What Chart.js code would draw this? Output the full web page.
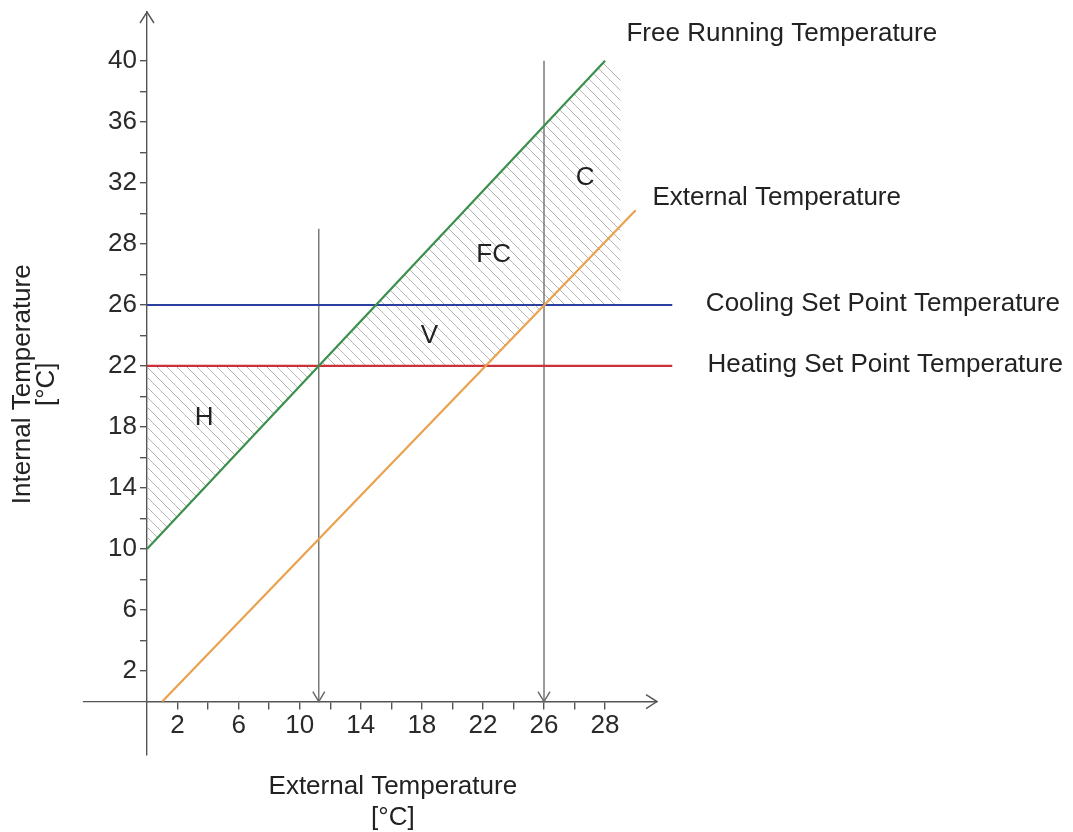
<!DOCTYPE html>
<html>
<head>
<meta charset="utf-8">
<script src="https://cdn.jsdelivr.net/npm/chart.js@4.4.0/dist/chart.umd.min.js"></script>
<style>
  html, body { margin: 0; padding: 0; background: #fff; }
  #wrap { width: 1073px; height: 832px; }
</style>
</head>
<body>
<div id="wrap"><canvas id="chart"></canvas></div>
<script>
// lines (external temperature -> internal temperature)
const freeRunningX = [0, 30];
const freeRunningY = [10, 42];
const externalX = [1, 32];
const externalY = [0, 32.2];
const heatingSetPoint = 22;
const coolingSetPoint = 26;
const setPointSpanX = [0, 34.4];

// vertical arrows down to the x axis
const arrowX = [11.25, 26];
const arrowTopY = [31, 42];

// hatched zones
const zoneHX = [0, 11.25, 0];
const zoneHY = [22, 22, 10];
const zoneVX = [11.25, 30, 31, 31, 26, 22.3];
const zoneVY = [22, 42, 41.1, 26, 26, 22];

// ticks and their labels
const xTickValues = [2, 4, 6, 8, 10, 12, 14, 16, 18, 20, 22, 24, 26, 28, 30];
const xLabelValues = [2, 6, 10, 14, 18, 22, 26, 30];
const xLabelTexts = ['2', '6', '10', '14', '18', '22', '26', '28'];
const yTickValues = [2, 4, 6, 8, 10, 12, 14, 16, 18, 20, 22, 24, 26, 28, 30, 32, 34, 36, 38, 40, 42];
const yLabelValues = [2, 6, 10, 14, 18, 22, 26, 30, 34, 38, 42];
const yLabelTexts = ['2', '6', '10', '14', '18', '22', '26', '28', '32', '36', '40'];

// text placed in the plot
const plotLabels = [
  { text: 'Free Running Temperature', x: 31.4, y: 43.8, align: 'left' },
  { text: 'External Temperature', x: 33.1, y: 33.0, align: 'left' },
  { text: 'Cooling Set Point Temperature', x: 36.6, y: 26.1, align: 'left' },
  { text: 'Heating Set Point Temperature', x: 36.7, y: 22.1, align: 'left' },
  { text: 'H', x: 3.75, y: 18.6, align: 'center' },
  { text: 'V', x: 18.5, y: 24.0, align: 'center' },
  { text: 'FC', x: 22.7, y: 29.3, align: 'center' },
  { text: 'C', x: 28.7, y: 34.3, align: 'center' }
];

const FONT = '"Liberation Sans", Arial, Helvetica, sans-serif';
const AXIS = '#555';

function pts(xs, ys) {
  return xs.map((x, i) => ({ x: x, y: ys[i] }));
}

function hatch() {
  const s = 10;
  const c = document.createElement('canvas');
  c.width = s; c.height = s;
  const g = c.getContext('2d');
  g.strokeStyle = '#b6b6b6';
  g.lineWidth = 1;
  g.beginPath();
  g.moveTo(0, 0); g.lineTo(s, s);
  g.moveTo(-2, s - 2); g.lineTo(2, s + 2);
  g.moveTo(s - 2, -2); g.lineTo(s + 2, 2);
  g.stroke();
  return g.createPattern(c, 'repeat');
}

function lineSet(data, color, width) {
  return {
    data: data, showLine: true, fill: false, borderColor: color, borderWidth: width,
    pointRadius: 0, pointHoverRadius: 0, clip: false, order: 1
  };
}

function zoneSet(data, pattern) {
  return {
    data: data, showLine: true, fill: 'shape', backgroundColor: pattern,
    borderWidth: 0, borderColor: 'rgba(0,0,0,0)', pointRadius: 0, clip: false, order: 5
  };
}

function chevron(ctx, tipX, tipY, dir, len, half) {
  ctx.beginPath();
  if (dir === 'right') {
    ctx.moveTo(tipX - len, tipY - half); ctx.lineTo(tipX, tipY); ctx.lineTo(tipX - len, tipY + half);
  } else if (dir === 'up') {
    ctx.moveTo(tipX - half, tipY + len); ctx.lineTo(tipX, tipY); ctx.lineTo(tipX + half, tipY + len);
  } else {
    ctx.moveTo(tipX - half, tipY - len); ctx.lineTo(tipX, tipY); ctx.lineTo(tipX + half, tipY - len);
  }
  ctx.stroke();
}

const overlay = {
  id: 'overlay',
  afterDatasetsDraw(chart) {
    const { ctx } = chart;
    const xs = chart.scales.x, ys = chart.scales.y;
    const x0 = xs.getPixelForValue(0), y0 = ys.getPixelForValue(0);
    ctx.save();
    ctx.lineWidth = 1.4;
    ctx.strokeStyle = AXIS;
    // x axis continues left of the y axis
    ctx.beginPath();
    ctx.moveTo(xs.getPixelForValue(-4.2), y0);
    ctx.lineTo(x0, y0);
    ctx.stroke();
    chevron(ctx, xs.getPixelForValue(xs.max), y0, 'right', 11, 7);
    chevron(ctx, x0, ys.getPixelForValue(ys.max), 'up', 11, 7);
    ctx.strokeStyle = '#666';
    arrowX.forEach(v => chevron(ctx, xs.getPixelForValue(v), y0, 'down', 10, 6));

    ctx.fillStyle = '#222';
    ctx.font = '26px ' + FONT;
    ctx.textBaseline = 'middle';
    plotLabels.forEach(l => {
      ctx.textAlign = l.align;
      ctx.fillText(l.text, xs.getPixelForValue(l.x), ys.getPixelForValue(l.y));
    });

    // axis titles
    ctx.textAlign = 'center';
    const cx = xs.getPixelForValue(16.1);
    ctx.fillText('External Temperature', cx, y0 + 85);
    ctx.fillText('[°C]', cx, y0 + 116);
    ctx.save();
    ctx.translate(x0 - 124, ys.getPixelForValue(20.8));
    ctx.rotate(-Math.PI / 2);
    ctx.fillText('Internal Temperature', 0, 0);
    ctx.fillText('[°C]', 0, 24);
    ctx.restore();
    ctx.restore();
  }
};

const pattern = hatch();

const datasets = [
  lineSet(pts(freeRunningX, freeRunningY), '#3b8f4c', 2.2),
  lineSet(pts(externalX, externalY), '#eaa14e', 2.2),
  lineSet(pts(setPointSpanX, [coolingSetPoint, coolingSetPoint]), '#2a3f9e', 2),
  lineSet(pts(setPointSpanX, [heatingSetPoint, heatingSetPoint]), '#cc3038', 2.2),
  lineSet(pts([arrowX[0], arrowX[0]], [arrowTopY[0], 0]), '#666', 1.3),
  lineSet(pts([arrowX[1], arrowX[1]], [arrowTopY[1], 0]), '#666', 1.3),
  zoneSet(pts(zoneHX, zoneHY), pattern),
  zoneSet(pts(zoneVX, zoneVY), pattern)
];

const tickFont = { family: FONT, size: 26 };

new Chart(document.getElementById('chart'), {
  type: 'scatter',
  data: { datasets: datasets },
  options: {
    responsive: true,
    maintainAspectRatio: false,
    animation: false,
    events: [],
    layout: { autoPadding: false, padding: { left: 83, right: 416, top: 12, bottom: 77 } },
    plugins: { legend: { display: false }, tooltip: { enabled: false } },
    scales: {
      x: {
        type: 'linear', min: 0, max: 33.4, position: { y: 0 },
        afterBuildTicks: s => { s.ticks = xTickValues.map(v => ({ value: v })); },
        afterFit: s => { s.paddingLeft = 0; s.paddingRight = 0; },
        grid: { drawOnChartArea: false, drawTicks: true, tickLength: 7, color: AXIS, lineWidth: 1.4 },
        border: { display: true, color: AXIS, width: 1.4 },
        ticks: {
          autoSkip: false, maxRotation: 0, padding: 2, color: '#2a2a2a', font: tickFont,
          callback: v => { const i = xLabelValues.indexOf(v); return i >= 0 ? xLabelTexts[i] : ''; }
        }
      },
      y: {
        type: 'linear', min: -3.5, max: 45.2, position: 'left',
        afterBuildTicks: s => { s.ticks = yTickValues.map(v => ({ value: v })); },
        afterFit: s => { s.width = 64; s.paddingTop = 0; s.paddingBottom = 0; },
        grid: { drawOnChartArea: false, drawTicks: true, tickLength: 7, color: AXIS, lineWidth: 1.4 },
        border: { display: true, color: AXIS, width: 1.4 },
        ticks: {
          autoSkip: false, padding: 3, color: '#2a2a2a', font: tickFont,
          callback: v => { const i = yLabelValues.indexOf(v); return i >= 0 ? yLabelTexts[i] : ''; }
        }
      }
    }
  },
  plugins: [overlay]
});
</script>
</body>
</html>
